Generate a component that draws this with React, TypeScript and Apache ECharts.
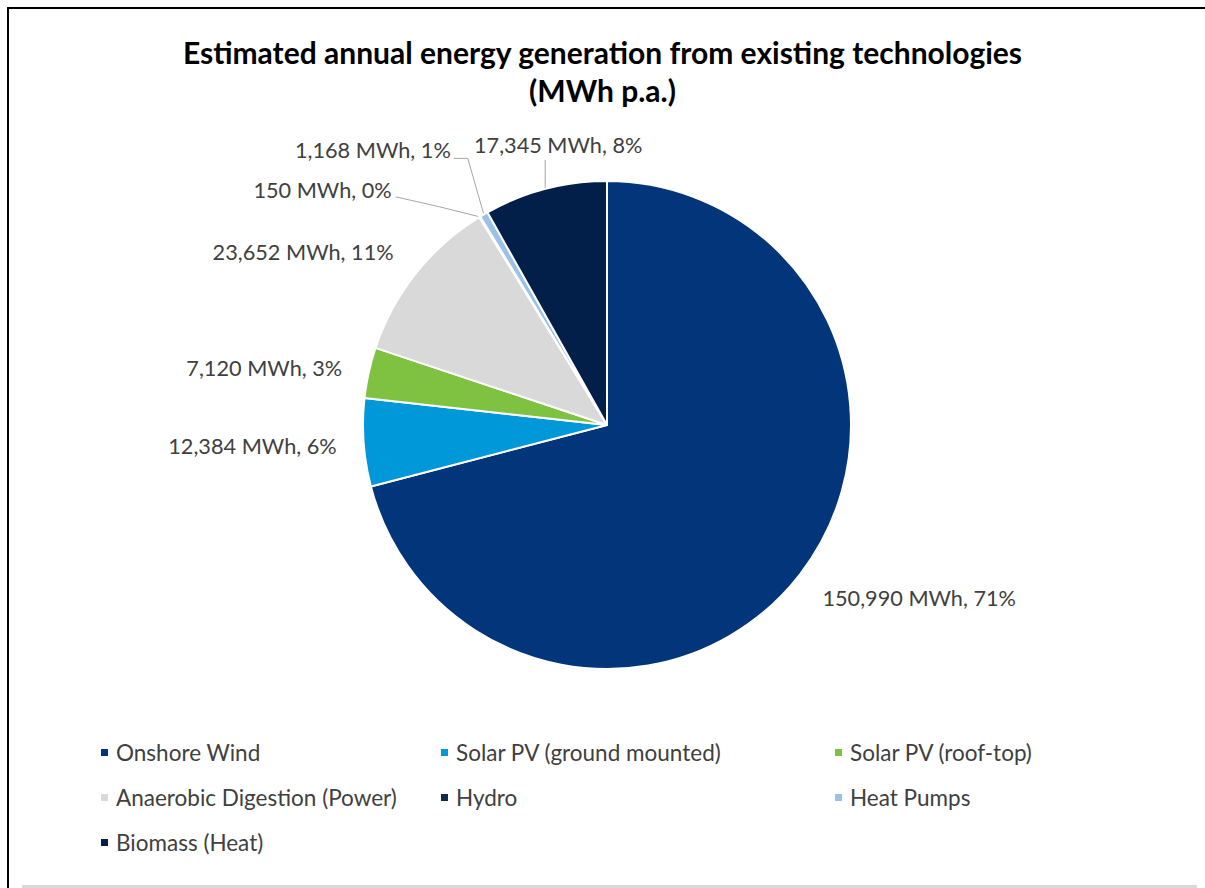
import React, { useEffect, useRef } from "react";
import * as echarts from "echarts";

const titleLines = ["Estimated annual energy generation from existing technologies", "(MWh p.a.)"];
const categories = [
  "Onshore Wind",
  "Solar PV (ground mounted)",
  "Solar PV (roof-top)",
  "Anaerobic Digestion (Power)",
  "Hydro",
  "Heat Pumps",
  "Biomass (Heat)",
];
const values = [150990, 12384, 7120, 23652, 150, 1168, 17345];
const unit = "MWh";
// legend columns (indices into categories)
const legendColumns = [[0, 3, 6], [1, 4], [2, 5]];

const colors = ["#02357a", "#0098d8", "#7fc241", "#d9d9d9", "#0f2a4c", "#9bc2e6", "#021f4a"];
const FONT = "Lato";

export default function App() {
  const ref = useRef<HTMLDivElement>(null);
  useEffect(() => {
    if (!ref.current) return;
    const chart = echarts.init(ref.current, null, { renderer: "svg" });
    const total = values.reduce((a, b) => a + b, 0);
    const leaderItems = new Set([4, 5, 6]);
    const legendLeft = [99, 439, 833];
    const labelDy: Record<number, number> = { 0: 10, 1: 2, 2: 0, 3: -8 };

    chart.setOption({
      animation: false,
      backgroundColor: "#ffffff",
      title: {
        text: titleLines.join("\n"),
        left: "center",
        top: 33,
        padding: 0,
        textStyle: {
          fontFamily: FONT,
          fontWeight: "bold",
          fontSize: 30,
          lineHeight: 38,
          color: "#000000",
        },
      },
      legend: legendColumns.map((col, k) => ({
        orient: "vertical",
        left: legendLeft[k],
        top: 741,
        padding: 0,
        data: col.map((i) => categories[i]),
        icon: "rect",
        itemWidth: 9,
        itemHeight: 9,
        itemGap: 22,
        selectedMode: false,
        textStyle: {
          fontFamily: FONT,
          fontSize: 22.5,
          lineHeight: 21,
          color: "#404040",
          padding: [0, 0, 0, 2],
        },
      })),
      graphic: [
        { type: "rect", shape: { x: 7, y: 7, width: 2, height: 881 }, style: { fill: "#000" }, silent: true },
        { type: "rect", shape: { x: 7, y: 7, width: 1198, height: 2 }, style: { fill: "#000" }, silent: true },
        { type: "rect", shape: { x: 22, y: 885, width: 1175, height: 3 }, style: { fill: "#d9d9d9" }, silent: true },
      ],
      series: [
        {
          type: "pie",
          center: [607, 425],
          radius: 244,
          startAngle: 90,
          clockwise: true,
          avoidLabelOverlap: false,
          itemStyle: { borderColor: "#ffffff", borderWidth: 2 },
          label: {
            show: true,
            position: "outside",
            fontFamily: FONT,
            fontSize: 21.7,
            color: "#404040",
            formatter: (p: any) =>
              `${Number(p.value).toLocaleString("en-US")} ${unit}, ${Math.round((p.value / total) * 100)}%`,
          },
          labelLine: {
            show: false,
            length: 22,
            length2: 0,
            lineStyle: { color: "#a6a6a6", width: 1 },
          },
          labelLayout: (params: any) => {
            const i = params.dataIndex;
            const pts = params.labelLinePoints;
            if (leaderItems.has(i) && pts && pts[0]) {
              const ax = pts[0][0];
              const ay = pts[0][1];
              if (i === 4) {
                return {
                  x: ax - 88,
                  y: ay - 27,
                  align: "right",
                  verticalAlign: "middle",
                  labelLinePoints: [[ax, ay], [ax - 40, ay - 10], [ax - 84, ay - 20]],
                };
              }
              if (i === 5) {
                return {
                  x: ax - 33,
                  y: ay - 64,
                  align: "right",
                  verticalAlign: "middle",
                  labelLinePoints: [[ax, ay], [ax - 16, ay - 56], [ax - 30, ay - 56]],
                };
              }
              return {
                x: ax + 13,
                y: ay - 44,
                align: "center",
                verticalAlign: "middle",
                labelLinePoints: [[ax, ay], [ax, ay - 15], [ax, ay - 29]],
              };
            }
            return { dy: labelDy[i] ?? 0 };
          },
          data: categories.map((name, i) => ({
            name,
            value: values[i],
            itemStyle: { color: colors[i] },
            labelLine: leaderItems.has(i) ? { show: true } : { show: false },
          })),
        },
      ],
    });
    return () => chart.dispose();
  }, []);
  return (
    <div
      ref={ref}
      style={{ position: "absolute", left: 0, top: 0, width: 1205, height: 888 }}
    />
  );
}
